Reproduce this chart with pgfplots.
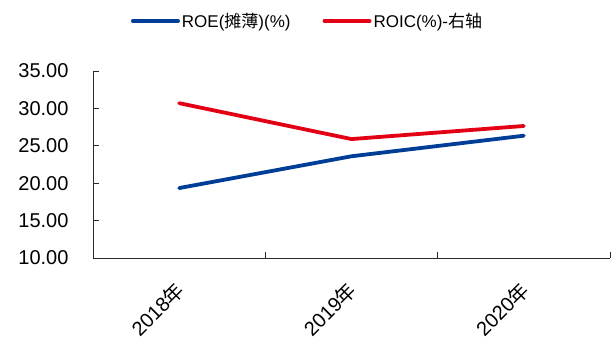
\documentclass[border=0pt]{standalone}
\usepackage{fontspec}
\setmainfont{Liberation Sans}
\newfontfamily\cjk{Noto Sans CJK SC}
\usepackage{pgfplots}
\pgfplotsset{compat=1.18}
\definecolor{roeblue}{RGB}{0,61,150}
\definecolor{roicred}{RGB}{227,0,20}
\definecolor{axisgray}{RGB}{40,40,40}
\begin{document}
\begin{tikzpicture}[x=1bp,y=1bp]
\path[use as bounding box] (0,0) rectangle (615,341);
\begin{axis}[
  at={(93bp,83bp)}, anchor=south west,
  scale only axis, width=517bp, height=187bp,
  xmin=-0.5, xmax=2.5, ymin=10, ymax=35,
  axis x line*=bottom, axis y line*=left,
  axis line style={axisgray, line width=0.9bp},
  /pgf/number format/assume math mode=true,
  ytick={10,15,20,25,30,35},
  yticklabel style={/pgf/number format/fixed, /pgf/number format/fixed zerofill, /pgf/number format/precision=2, font=\fontsize{20bp}{24bp}\selectfont, xshift=-21bp},
  xtick={-0.5,0.5,1.5,2.5}, xticklabels={},
  extra x ticks={0,1,2},
  extra x tick labels={2018{\cjk 年},2019{\cjk 年},2020{\cjk 年}},
  extra x tick style={major tick length=0pt, xticklabel style={xshift=-5.5bp, yshift=-17bp, rotate=45, anchor=north east, font=\fontsize{20bp}{24bp}\selectfont}},
  tick align=inside, major tick length=6bp,
  tick style={axisgray, line width=0.9bp},
  legend style={draw=none, at={(0.415,1.267)}, anchor=center, font=\fontsize{17bp}{20bp}\selectfont, /tikz/every even column/.append style={column sep=30bp}},
  legend columns=2,
  legend image code/.code={\draw[#1, line width=4bp, line cap=round] (0bp,0bp) -- (45bp,0bp);},
]
\addplot[roeblue, line width=3.8bp, line cap=round, line join=round] coordinates {(0,19.35) (1,23.6) (2,26.35)};
\addlegendentry{ROE({\cjk 摊薄})(\%)}
\addplot[roicred, line width=3.8bp, line cap=round, line join=round] coordinates {(0,30.7) (1,25.9) (2,27.65)};
\addlegendentry{ROIC(\%)-{\cjk 右轴}}
\end{axis}
\end{tikzpicture}
\end{document}
